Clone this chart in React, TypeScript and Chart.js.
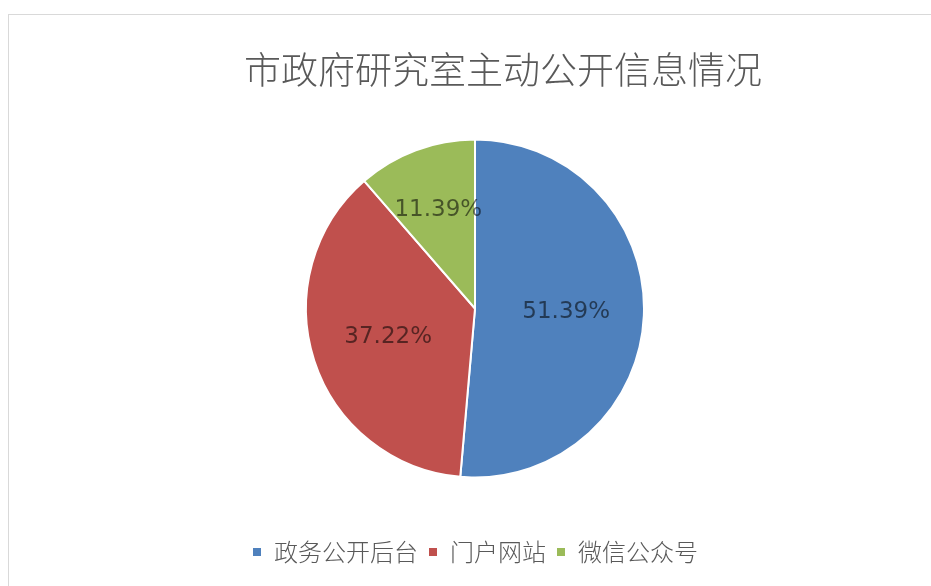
import { useEffect, useRef } from 'react';
import { Chart, registerables } from 'chart.js';

Chart.register(...registerables);

const chartTitle = '市政府研究室主动公开信息情况';
const categories = ['政务公开后台', '门户网站', '微信公众号'];
const values = [51.39, 37.22, 11.39];
const colors = ['#4F81BD', '#C0504D', '#9BBB59'];

const CJK = '"Noto Sans CJK SC", "Noto Sans", sans-serif';

const titlePlugin = {
  id: 'excelTitle',
  afterDraw(chart: any) {
    const ctx = chart.ctx;
    const area = chart.chartArea;
    ctx.save();
    ctx.font = `300 37px ${CJK}`;
    ctx.fillStyle = '#595959';
    ctx.textAlign = 'center';
    ctx.textBaseline = 'middle';
    ctx.fillText(chartTitle, (area.left + area.right) / 2 + 28, 70);
    ctx.restore();
  },
};

const labelPlugin = {
  id: 'sliceLabels',
  afterDatasetsDraw(chart: any) {
    const ctx = chart.ctx;
    const meta = chart.getDatasetMeta(0);
    ctx.save();
    ctx.font = '23px "DejaVu Sans", sans-serif';
    ctx.fillStyle = 'rgba(0,0,0,0.55)';
    ctx.textAlign = 'center';
    ctx.textBaseline = 'middle';
    meta.data.forEach((arc: any, i: number) => {
      const p = arc.getProps(['x', 'y', 'startAngle', 'endAngle', 'outerRadius']);
      const mid = (p.startAngle + p.endAngle) / 2;
      const frac = values[i] < 20 ? 0.62 : 0.54;
      const r = p.outerRadius * frac;
      ctx.fillText(values[i].toFixed(2) + '%', p.x + Math.cos(mid) * r, p.y + Math.sin(mid) * r);
    });
    ctx.restore();
  },
};

export default function App() {
  const ref = useRef<HTMLCanvasElement>(null);

  useEffect(() => {
    if (!ref.current) return;
    const chart = new Chart(ref.current, {
      type: 'pie',
      data: {
        labels: categories,
        datasets: [
          {
            data: values,
            backgroundColor: colors,
            borderColor: '#ffffff',
            borderWidth: 2,
            radius: 169,
          },
        ],
      },
      options: {
        responsive: false,
        animation: false,
        layout: { padding: { top: 87, left: 19, right: 0, bottom: 12 } },
        plugins: {
          title: { display: false },
          tooltip: { enabled: false },
          legend: {
            position: 'bottom',
            labels: {
              boxWidth: 10,
              boxHeight: 10,
              padding: 10,
              color: '#595959',
              font: { size: 24, family: CJK, weight: '300' },
            },
          },
        },
      },
      plugins: [titlePlugin, labelPlugin],
    });
    return () => chart.destroy();
  }, []);

  return (
    <div style={{ position: 'fixed', left: 0, top: 0, width: 931, height: 586, overflow: 'hidden', background: '#fff' }}>
      <div
        style={{
          position: 'absolute',
          left: 8,
          top: 14,
          width: 960,
          height: 620,
          border: '1px solid #d9d9d9',
          boxSizing: 'border-box',
        }}
      />
      <canvas ref={ref} width={931} height={586} style={{ position: 'absolute', left: 0, top: 0 }} />
    </div>
  );
}
